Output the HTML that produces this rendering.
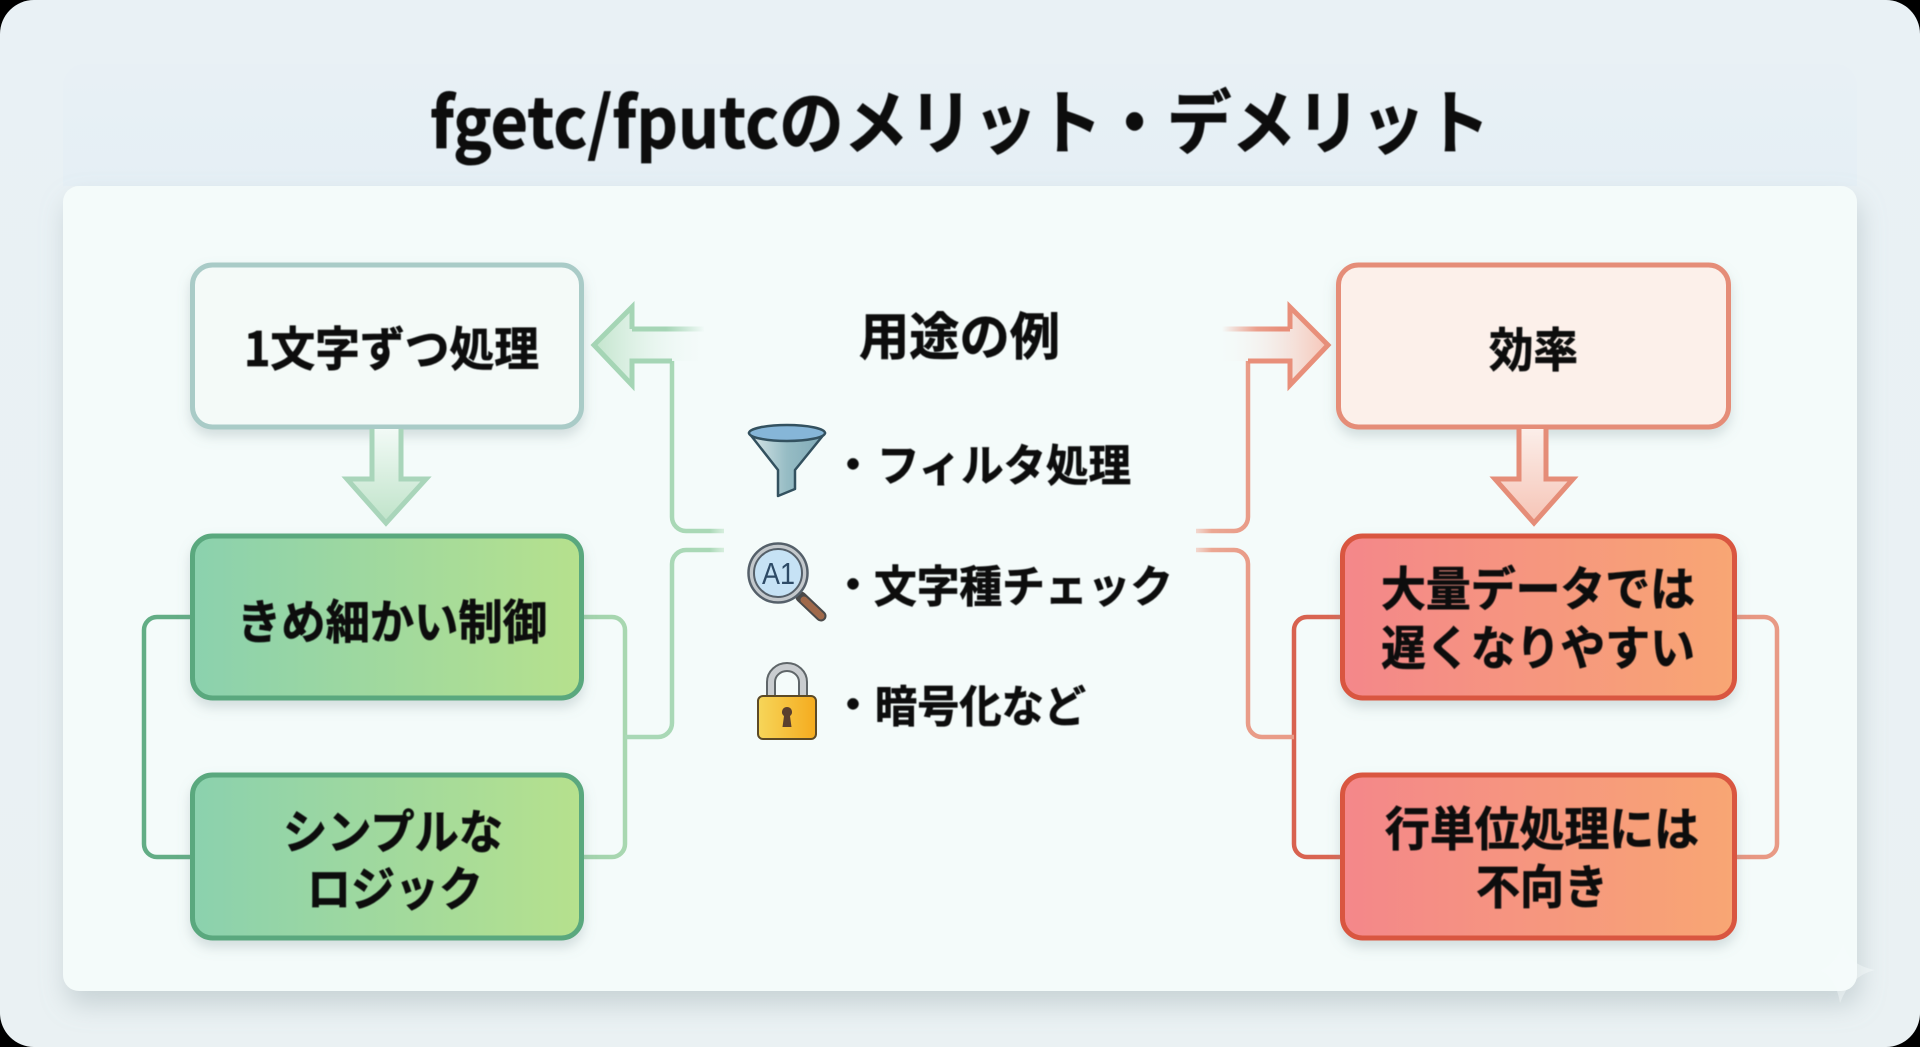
<!DOCTYPE html>
<html lang="ja"><head><meta charset="utf-8"><title>fgetc/fputcのメリット・デメリット</title>
<style>
html,body{margin:0;padding:0;width:1920px;height:1047px;overflow:hidden;background:#000}
svg{display:block}
text{font-family:"Liberation Sans","Noto Sans CJK JP",sans-serif;font-weight:700;fill:#0a0d0e}
.j{font-family:"Noto Sans CJK JP",sans-serif;stroke:#0a0d0e;stroke-width:.7px}
</style></head><body>
<svg width="1920" height="1047" viewBox="0 0 1920 1047" xmlns="http://www.w3.org/2000/svg">
<defs>
<linearGradient id="bg" x1="0" y1="0" x2="0" y2="1"><stop offset="0" stop-color="#e9f1f5"/><stop offset="1" stop-color="#eaf1f3"/></linearGradient>
<linearGradient id="hd" x1="0" y1="0" x2="0" y2="1"><stop offset="0" stop-color="#e8f0f5"/><stop offset="1" stop-color="#e5eff5"/></linearGradient>
<linearGradient id="gb" x1="0" y1="0" x2="1" y2="0"><stop offset="0" stop-color="#8bd1ae"/><stop offset="1" stop-color="#b6e18d"/></linearGradient>
<linearGradient id="rb" x1="0" y1="0" x2="1" y2="0"><stop offset="0" stop-color="#f4878a"/><stop offset="1" stop-color="#f8a673"/></linearGradient>
<linearGradient id="gs" gradientUnits="userSpaceOnUse" x1="190" y1="0" x2="625" y2="0"><stop offset="0" stop-color="#62ad85"/><stop offset="1" stop-color="#a8d7b0"/></linearGradient>
<linearGradient id="rs" gradientUnits="userSpaceOnUse" x1="1294" y1="0" x2="1777" y2="0"><stop offset="0" stop-color="#d8624f"/><stop offset="1" stop-color="#e89a85"/></linearGradient>
<linearGradient id="gfa" gradientUnits="userSpaceOnUse" x1="591" y1="0" x2="710" y2="0"><stop offset="0" stop-color="#bfe3c9"/><stop offset="1" stop-color="#f3faf9" stop-opacity="0"/></linearGradient>
<linearGradient id="gsa" gradientUnits="userSpaceOnUse" x1="640" y1="0" x2="705" y2="0"><stop offset="0" stop-color="#a5d5b5"/><stop offset=".4" stop-color="#a5d5b5"/><stop offset="1" stop-color="#a5d5b5" stop-opacity="0"/></linearGradient>
<linearGradient id="gl1" gradientUnits="userSpaceOnUse" x1="672" y1="0" x2="726" y2="0"><stop offset="0" stop-color="#a9d8b6"/><stop offset=".7" stop-color="#a9d8b6"/><stop offset="1" stop-color="#c9e8d0" stop-opacity=".6"/></linearGradient>
<linearGradient id="rfa" gradientUnits="userSpaceOnUse" x1="1329" y1="0" x2="1215" y2="0"><stop offset="0" stop-color="#f6c4b6"/><stop offset="1" stop-color="#f3faf9" stop-opacity="0"/></linearGradient>
<linearGradient id="rsa" gradientUnits="userSpaceOnUse" x1="1280" y1="0" x2="1222" y2="0"><stop offset="0" stop-color="#e88f7a"/><stop offset=".4" stop-color="#eb9f8c"/><stop offset="1" stop-color="#eb9f8c" stop-opacity="0"/></linearGradient>
<linearGradient id="rl1" gradientUnits="userSpaceOnUse" x1="1248" y1="0" x2="1196" y2="0"><stop offset="0" stop-color="#e99c88"/><stop offset=".7" stop-color="#eba793"/><stop offset="1" stop-color="#f0c0b2" stop-opacity=".6"/></linearGradient>
<linearGradient id="gda" x1="0" y1="0" x2="0" y2="1"><stop offset="0" stop-color="#f2faf6"/><stop offset="1" stop-color="#bfe3c9"/></linearGradient>
<linearGradient id="rda" x1="0" y1="0" x2="0" y2="1"><stop offset="0" stop-color="#fbeee9"/><stop offset="1" stop-color="#f6c4b6"/></linearGradient>
<linearGradient id="fun" x1="0" y1="0" x2="1" y2="0"><stop offset="0" stop-color="#dbe8ea"/><stop offset=".5" stop-color="#96bcc4"/><stop offset="1" stop-color="#7fa9b7"/></linearGradient>
<linearGradient id="lock" x1="0" y1="0" x2="1" y2="0"><stop offset="0" stop-color="#f6d65a"/><stop offset="1" stop-color="#f5ab1e"/></linearGradient>
<filter id="sh" x="-20%" y="-20%" width="140%" height="150%"><feDropShadow dx="0" dy="7" stdDeviation="6" flood-color="#7a9095" flood-opacity=".28"/></filter>
<filter id="psh" x="-5%" y="-5%" width="110%" height="115%"><feDropShadow dx="3" dy="14" stdDeviation="13" flood-color="#8fa3a6" flood-opacity=".38"/></filter>
<filter id="soft"><feGaussianBlur stdDeviation=".45"/></filter>
</defs>

<rect x="0" y="0" width="1920" height="1047" rx="34" fill="url(#bg)"/>
<path d="M63,186V86a22,22 0 0 1 22,-22H1835a22,22 0 0 1 22,22V186Z" fill="url(#hd)"/>
<rect x="63" y="186" width="1794" height="805" rx="16" fill="#f4fbfa" filter="url(#psh)"/>
<path d="M1843,943 Q1848,965 1875,970 Q1850,976 1840,1003 Q1836,978 1820,970 Q1836,965 1843,943Z" fill="#f8fcfc" opacity=".4"/>

<!-- connectors left -->
<g fill="none" stroke="url(#gs)" stroke-width="4.5">
<path d="M190,617H157a13,13 0 0 0 -13,13V844a13,13 0 0 0 13,13H190"/>
<path d="M583,617H612a13,13 0 0 1 13,13V844a13,13 0 0 1 -13,13H583"/>
</g>
<path d="M625,737H658a14,14 0 0 0 14,-14V564a14,14 0 0 1 14,-14H724" fill="none" stroke="url(#gl1)" stroke-width="4.5"/>
<path d="M672,361V517a14,14 0 0 0 14,14H724" fill="none" stroke="url(#gl1)" stroke-width="4.5"/>
<path d="M704,329H632V307L594,345L632,385V361H704Z" fill="url(#gfa)"/>
<path d="M704,329H632" fill="none" stroke="url(#gsa)" stroke-width="5"/>
<path d="M632,329V307L594,345L632,385V361H672" fill="none" stroke="#a5d5b5" stroke-width="5"/>

<!-- connectors right -->
<g fill="none" stroke="url(#rs)" stroke-width="4.5">
<path d="M1341,617H1307a13,13 0 0 0 -13,13V844a13,13 0 0 0 13,13H1341"/>
<path d="M1736,617H1764a13,13 0 0 1 13,13V844a13,13 0 0 1 -13,13H1736"/>
</g>
<path d="M1294,737H1262a14,14 0 0 1 -14,-14V564a14,14 0 0 0 -14,-14H1196" fill="none" stroke="url(#rl1)" stroke-width="4.5"/>
<path d="M1248,361V517a14,14 0 0 1 -14,14H1196" fill="none" stroke="url(#rl1)" stroke-width="4.5"/>
<path d="M1222,329H1290V307L1328,345L1290,385V361H1222Z" fill="url(#rfa)"/>
<path d="M1222,329H1290" fill="none" stroke="url(#rsa)" stroke-width="5"/>
<path d="M1290,329V307L1328,345L1290,385V361H1248" fill="none" stroke="#e88f7a" stroke-width="5"/>

<!-- boxes -->
<rect x="192.500" y="265" width="389" height="162" rx="20" fill="#f4faf8" stroke="#a9cbc7" stroke-width="5" filter="url(#sh)"/>
<rect x="192.500" y="536" width="389" height="162" rx="20" fill="url(#gb)" stroke="#5aa87e" stroke-width="5" filter="url(#sh)"/>
<rect x="192.500" y="775" width="389" height="163" rx="20" fill="url(#gb)" stroke="#5aa87e" stroke-width="5" filter="url(#sh)"/>
<rect x="1338.500" y="265" width="390" height="162" rx="20" fill="#fcf0ea" stroke="#e58d78" stroke-width="5" filter="url(#sh)"/>
<rect x="1342.500" y="536" width="392" height="162" rx="20" fill="url(#rb)" stroke="#d9573f" stroke-width="5" filter="url(#sh)"/>
<rect x="1342.500" y="775" width="392" height="163" rx="20" fill="url(#rb)" stroke="#d9573f" stroke-width="5" filter="url(#sh)"/>

<!-- down arrows -->
<path d="M372,429V479H347L386,523L426,479H401V429" fill="url(#gda)" stroke="#a9d5ba" stroke-width="5"/>
<path d="M1519,429V479H1495L1534,523L1573,479H1546V429" fill="url(#rda)" stroke="#e58d78" stroke-width="5"/>

<!-- text -->
<g filter="url(#soft)">
<text class="j" x="430" y="148" font-size="70" textLength="1060" lengthAdjust="spacingAndGlyphs">fgetc/fputcのメリット・デメリット</text>

<text class="j" x="244" y="366" font-size="47" textLength="295" lengthAdjust="spacingAndGlyphs">1文字ずつ処理</text>
<text class="j" x="237" y="639" font-size="47" textLength="310" lengthAdjust="spacingAndGlyphs">きめ細かい制御</text>
<text class="j" x="283" y="849" font-size="47" textLength="220" lengthAdjust="spacingAndGlyphs">シンプルな</text>
<text class="j" x="307" y="906" font-size="47" textLength="176" lengthAdjust="spacingAndGlyphs">ロジック</text>

<text class="j" x="1489" y="367" font-size="47" textLength="89" lengthAdjust="spacingAndGlyphs">効率</text>
<text class="j" x="1381" y="606" font-size="47" textLength="314" lengthAdjust="spacingAndGlyphs">大量データでは</text>
<text class="j" x="1381" y="665" font-size="47" textLength="314" lengthAdjust="spacingAndGlyphs">遅くなりやすい</text>
<text class="j" x="1385" y="846" font-size="47" textLength="314" lengthAdjust="spacingAndGlyphs">行単位処理には</text>
<text class="j" x="1476" y="904" font-size="47" textLength="132" lengthAdjust="spacingAndGlyphs">不向き</text>

<text class="j" x="859" y="355" font-size="51" textLength="201" lengthAdjust="spacingAndGlyphs">用途の例</text>
<text class="j" x="832" y="480" font-size="42">・</text>
<text class="j" x="877" y="481" font-size="44" textLength="254" lengthAdjust="spacingAndGlyphs">フィルタ処理</text>
<text class="j" x="832" y="600" font-size="42">・</text>
<text class="j" x="874" y="602" font-size="44" textLength="299" lengthAdjust="spacingAndGlyphs">文字種チェック</text>
<text class="j" x="832" y="720" font-size="42">・</text>
<text class="j" x="875" y="722" font-size="44" textLength="211" lengthAdjust="spacingAndGlyphs">暗号化など</text>
</g>

<!-- funnel -->
<path d="M749,433L778,470V496L795,489V470L825,433Z" fill="url(#fun)" stroke="#33515f" stroke-width="2.500" stroke-linejoin="round"/>
<ellipse cx="787" cy="433" rx="38" ry="8" fill="#86b6d8" stroke="#33515f" stroke-width="2.500"/>

<!-- magnifier -->
<line x1="801" y1="597" x2="821" y2="616" stroke="#4a4a4a" stroke-width="11" stroke-linecap="round"/>
<line x1="804" y1="600" x2="821" y2="616" stroke="#a0694a" stroke-width="7" stroke-linecap="round"/>
<circle cx="778" cy="573" r="29.500" fill="#c3c8cc" stroke="#55606a" stroke-width="2.500"/>
<circle cx="778" cy="573" r="24" fill="#c6e2f5" stroke="#55606a" stroke-width="2"/>
<text x="762" y="584" font-size="31" style="font-weight:400;fill:#2d4a66" textLength="33" lengthAdjust="spacingAndGlyphs">A1</text>

<!-- lock -->
<path d="M771,698V682a16,15 0 0 1 32,0V698" fill="none" stroke="#5f6669" stroke-width="10"/>
<path d="M771,698V682a16,15 0 0 1 32,0V698" fill="none" stroke="#c9cdd0" stroke-width="6"/>
<rect x="758" y="696" width="58" height="43" rx="5" fill="url(#lock)" stroke="#5c4a26" stroke-width="2"/>
<path d="M787,707a5,5 0 0 1 3,9l1.500,11h-9l1.500,-11a5,5 0 0 1 3,-9Z" fill="#5a3f2e"/>
</svg>
</body></html>
